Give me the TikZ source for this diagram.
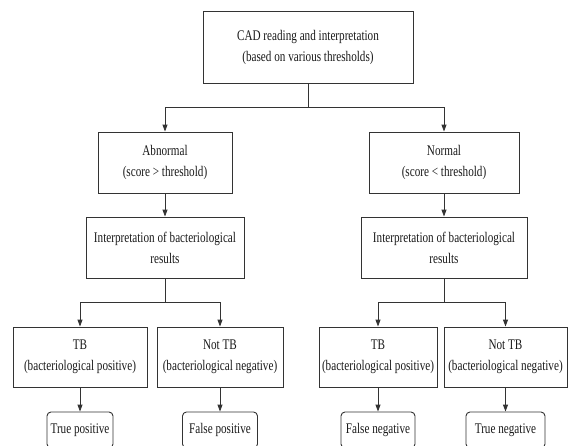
\documentclass[tikz,border=0pt]{standalone}
\usepackage{fontspec}
\setmainfont{Liberation Serif}[FakeStretch=0.76]
\usepackage{tikz}
\usetikzlibrary{positioning,arrows.meta}
\definecolor{edge}{HTML}{333333}
\definecolor{ink}{HTML}{1a1a1a}

\begin{document}
\begin{tikzpicture}[
    x=1pt, y=-1pt,
    box/.style = {rectangle, draw=edge, line width=0.9pt, fill=white, text=ink, align=center, font=\fontsize{14.7}{21}\selectfont, inner sep=0pt},
    outcome/.style = {box, rounded corners=4pt, minimum height=36pt},
    arr/.style = {draw=edge, line width=0.9pt, -{Triangle[length=7pt,width=5pt]}},
    link/.style = {draw=edge, line width=0.9pt},
]
    \clip (0,0) rectangle (570,445);
    \fill[white] (0,0) rectangle (570,445);

    % top
    \node[box, minimum width=210pt, minimum height=72pt] (cad) at (308,47) {CAD reading and interpretation\\ (based on various thresholds)};

    % score
    \node[box, minimum width=134pt, minimum height=61pt] (abnormal) at (165,162.5) {Abnormal\\ (score > threshold)};
    \node[box, minimum width=150pt, minimum height=61pt] (normal) at (444,162.5) {Normal\\ (score < threshold)};

    % bacteriology
    \node[box, minimum width=158pt, minimum height=61pt] (interpA) at (165,247.5) {Interpretation of bacteriological\\ results};
    \node[box, minimum width=166pt, minimum height=61pt] (interpN) at (444,247.5) {Interpretation of bacteriological\\ results};

    % results
    \node[box, minimum width=134pt, minimum height=60pt] (tbA) at (80,357) {TB\\ (bacteriological positive)};
    \node[box, minimum width=126pt, minimum height=60pt] (nottbA) at (220,357) {Not TB\\ (bacteriological negative)};
    \node[box, minimum width=118pt, minimum height=60pt] (tbN) at (378,357) {TB\\ (bacteriological positive)};
    \node[box, minimum width=123pt, minimum height=60pt] (nottbN) at (505.5,357) {Not TB\\ (bacteriological negative)};

    % outcomes
    \node[outcome, minimum width=66pt] (tp) at (80,430) {True positive};
    \node[outcome, minimum width=75pt] (fp) at (220,430) {False positive};
    \node[outcome, minimum width=74pt] (fn) at (378,430) {False negative};
    \node[outcome, minimum width=79pt] (tn) at (505.5,430) {True negative};

    % connectors
    \coordinate (split) at (308,107);
    \coordinate (splitA) at (165,302);
    \coordinate (splitN) at (444,302);
    \draw[link] (cad.south) -- (split);
    \draw[arr] (split) -| (abnormal.north);
    \draw[arr] (split) -| (normal.north);
    \draw[arr] (abnormal.south) -- (interpA.north);
    \draw[arr] (normal.south) -- (interpN.north);
    \draw[link] (interpA.south) -- (splitA);
    \draw[arr] (splitA) -| (tbA.north);
    \draw[arr] (splitA) -| (nottbA.north);
    \draw[link] (interpN.south) -- (splitN);
    \draw[arr] (splitN) -| (tbN.north);
    \draw[arr] (splitN) -| (nottbN.north);
    \draw[arr] (tbA.south) -- (tp.north);
    \draw[arr] (nottbA.south) -- (fp.north);
    \draw[arr] (tbN.south) -- (fn.north);
    \draw[arr] (nottbN.south) -- (tn.north);

\end{tikzpicture}
\end{document}
